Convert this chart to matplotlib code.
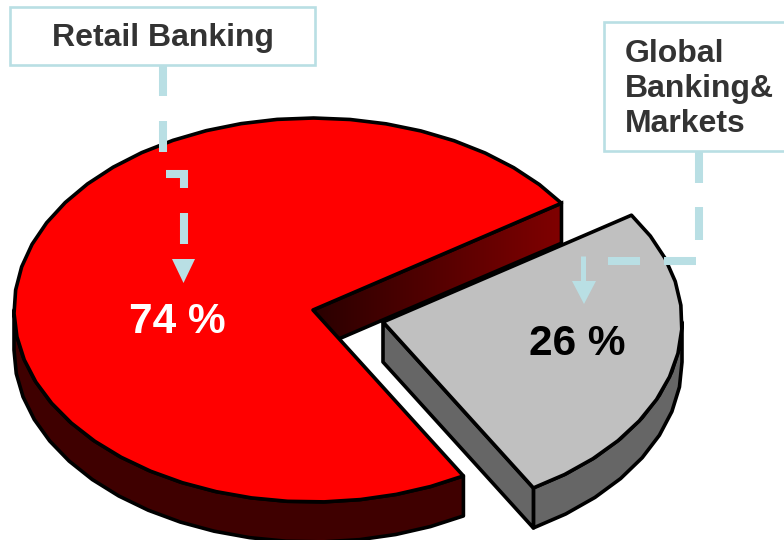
import numpy as np
import matplotlib
matplotlib.use("Agg")
import matplotlib.pyplot as plt
from matplotlib.patches import Polygon, Rectangle

segments = ["Retail Banking", "Global\nBanking&\nMarkets"]
shares = [74, 26]
share_labels = ["74 %", "26 %"]

plt.rcParams["font.family"] = ["Liberation Sans", "DejaVu Sans"]

START = 33.8
RX, RY = 299, 192
DEPTH = 40
LEAD = "#b9dfe4"
OUT = "black"
LW = 2.6


def arc(cx, cy, a0, a1, drop=0, step=7):
    n = max(int(abs(a1 - a0) / step), 2)
    t = np.radians(np.linspace(a0, a1, n + 1))
    return np.column_stack([cx + RX * np.cos(t), cy - RY * np.sin(t) + drop])


def face(ax, pts, color, z):
    ax.add_patch(Polygon(pts, closed=True, fc=color, ec=OUT, lw=LW, joinstyle="round", zorder=z))


def shaded(ax, pts, x0, x1, c0, c1, z):
    # horizontal gradient clipped to the polygon, with the outline on top
    c0 = np.array(matplotlib.colors.to_rgb(c0))
    c1 = np.array(matplotlib.colors.to_rgb(c1))
    f = np.linspace(0, 1, 128)[None, :, None]
    im = ax.imshow(c0 + (c1 - c0) * f, extent=[x0, x1, 540, 0], aspect="auto", zorder=z)
    clip = Polygon(pts, closed=True, transform=ax.transData, fc="none", ec="none")
    ax.add_patch(clip)
    im.set_clip_path(clip)
    ax.add_patch(Polygon(pts, closed=True, fc="none", ec=OUT, lw=LW, zorder=z + 0.1))


def leader(ax, xs, ys, width):
    ax.plot(xs, ys, color=LEAD, lw=width, solid_capstyle="butt", solid_joinstyle="miter", zorder=6)


def label_box(ax, x, y, w, h):
    ax.add_patch(Rectangle((x, y), w, h, fc="white", ec=LEAD, lw=1.9, zorder=7))


fig = plt.figure(figsize=(7.84, 5.40), dpi=100)
ax = fig.add_axes([0, 0, 1, 1])

# the big slice runs counter-clockwise from START, the other one closes the circle
sweep = 360 * shares[0] / sum(shares)
end = START + sweep

# red slice
cx, cy = 313, 310
a = arc(cx, cy, START, end)
outer_front = arc(cx, cy, 180, end)
wall = np.vstack([outer_front, arc(cx, cy, end, 180, DEPTH)])
face(ax, wall, "#3f0000", 1)
p_start = a[0]
back = np.array([p_start, [cx, cy], [cx, cy + DEPTH], p_start + [0, DEPTH]])
shaded(ax, back, cx, p_start[0], "#2a0000", "#800000", 1)
face(ax, np.vstack([[cx, cy], a]), "#ff0000", 2)

# grey slice, pulled out
gx, gy = 383, 322
b = arc(gx, gy, end - 360, START)
p_end = b[0]
outer = arc(gx, gy, end - 360, 0)
face(ax, np.vstack([outer, arc(gx, gy, 0, end - 360, DEPTH)]), "#666666", 3)
face(ax, np.array([[gx, gy], p_end, p_end + [0, DEPTH], [gx, gy + DEPTH]]), "#666666", 3)
face(ax, np.vstack([[gx, gy], b]), "#c0c0c0", 4)

# leader from the Retail Banking box
leader(ax, [163, 163], [65, 96], 5.8)
leader(ax, [163, 163], [121, 152], 5.8)
leader(ax, [166, 184, 184], [173.5, 173.5, 188], 5.8)
leader(ax, [184, 184], [213, 244], 5.8)
ax.add_patch(Polygon([[172, 259], [195, 259], [183.5, 283]], fc=LEAD, ec="none", zorder=6))

# leader from the Global Banking box
leader(ax, [699.5, 699.5], [151, 183], 5.8)
leader(ax, [699.5, 699.5], [207, 240], 5.8)
leader(ax, [696, 664], [260.5, 260.5], 5.8)
leader(ax, [640, 608], [260.5, 260.5], 5.8)
leader(ax, [583, 583], [256, 282], 3.6)
ax.add_patch(Polygon([[572, 281], [596, 281], [584, 304]], fc=LEAD, ec="none", zorder=6))

label_box(ax, 10.5, 6.5, 305, 58)
label_box(ax, 604.5, 21.5, 200, 129)
ax.text(163, 38, segments[0], ha="center", va="center", fontsize=23, fontweight="bold", color="#333333", zorder=8)
ax.text(625, 89, segments[1], ha="left", va="center", fontsize=23, fontweight="bold", color="#333333",
        linespacing=1.2, zorder=8)

ax.text(177, 322, share_labels[0], ha="center", va="center", fontsize=30.5, fontweight="bold", color="white", zorder=8)
ax.text(577, 344, share_labels[1], ha="center", va="center", fontsize=30.5, fontweight="bold", color="black", zorder=8)

ax.set_xlim(0, 784)
ax.set_ylim(540, 0)
ax.axis("off")

fig.savefig("out.png", dpi=100)
